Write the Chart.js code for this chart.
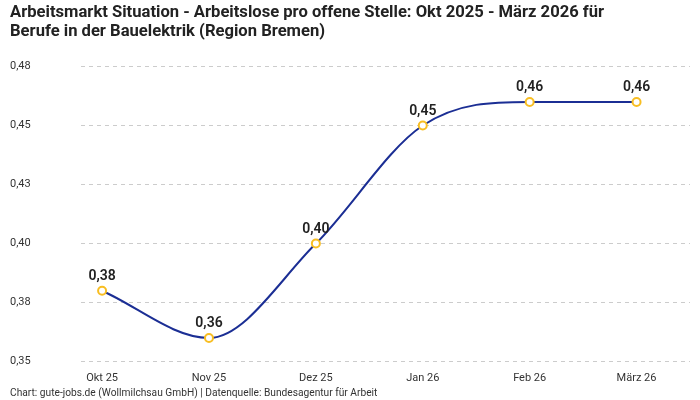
<!DOCTYPE html>
<html>
<head>
<meta charset="utf-8">
<script src="https://cdn.jsdelivr.net/npm/chart.js@4"></script>
<style>
  body { margin: 0; background: #fff; }
</style>
</head>
<body>
<canvas id="chart" width="700" height="400"></canvas>
<script>
const months = ['Okt 25', 'Nov 25', 'Dez 25', 'Jan 26', 'Feb 26', 'März 26']
const ratios = [0.38, 0.36, 0.40, 0.45, 0.46, 0.46]
const titleLines = [
  'Arbeitsmarkt Situation - Arbeitslose pro offene Stelle: Okt 2025 - März 2026 für',
  'Berufe in der Bauelektrik (Region Bremen)'
]
const sourceText = 'Chart: gute-jobs.de (Wollmilchsau GmbH) | Datenquelle: Bundesagentur für Arbeit'

const fontFamily = 'Roboto, "Noto Sans", sans-serif'

// 2 decimals, comma, half-up
const fmt = (v) => (Math.round(v * 100 + 1e-6) / 100).toFixed(2).replace('.', ',')

// value labels above the points
const pointLabels = {
  id: 'pointLabels',
  afterDatasetsDraw(chart) {
    const { ctx } = chart
    const meta = chart.getDatasetMeta(0)
    ctx.save()
    ctx.font = `600 14px ${fontFamily}`
    ctx.fillStyle = '#222'
    ctx.textAlign = 'center'
    ctx.textBaseline = 'bottom'
    meta.data.forEach((pt, i) => {
      ctx.fillText(fmt(ratios[i]), pt.x, pt.y - 7)
    })
    ctx.restore()
  }
}

new Chart(document.getElementById('chart'), {
  type: 'line',
  data: {
    datasets: [{
      data: ratios.map((v, i) => ({ x: i, y: v })),
      borderColor: '#1b2e94',
      borderWidth: 2,
      cubicInterpolationMode: 'monotone',
      pointRadius: 4,
      pointBorderWidth: 2,
      pointBackgroundColor: '#fff',
      pointBorderColor: '#f8be22',
      clip: false
    }]
  },
  options: {
    responsive: false,
    animation: false,
    layout: { padding: { left: 10, right: 10, top: 0, bottom: 0 } },
    plugins: {
      legend: { display: false },
      tooltip: { enabled: false },
      title: {
        display: true,
        text: titleLines,
        align: 'start',
        color: '#222',
        font: { family: fontFamily, size: 16.6, weight: 'bold', lineHeight: 1.1 },
        padding: { top: 4, bottom: 26 }
      },
      subtitle: {
        display: true,
        position: 'bottom',
        text: sourceText,
        align: 'start',
        color: '#333',
        font: { family: fontFamily, size: 10.2 },
        padding: { top: 1, bottom: 0 }
      }
    },
    scales: {
      x: {
        type: 'linear',
        min: -0.2,
        max: 5.5,
        grid: { display: false },
        border: { display: false },
        afterBuildTicks(axis) {
          axis.ticks = months.map((m, i) => ({ value: i }))
        },
        ticks: {
          color: '#333',
          font: { family: fontFamily, size: 11 },
          padding: 2,
          callback: (v) => months[v] ?? ''
        }
      },
      y: {
        min: 0.35,
        max: 0.475,
        grid: { color: '#cccccc', tickLength: 0, drawTicks: false },
        border: { display: false, dash: [4, 4] },
        ticks: {
          stepSize: 0.025,
          color: '#333',
          crossAlign: 'far',
          padding: 25,
          font: { family: fontFamily, size: 11 },
          callback: (v) => fmt(v)
        }
      }
    }
  },
  plugins: [pointLabels]
})
</script>
</body>
</html>
